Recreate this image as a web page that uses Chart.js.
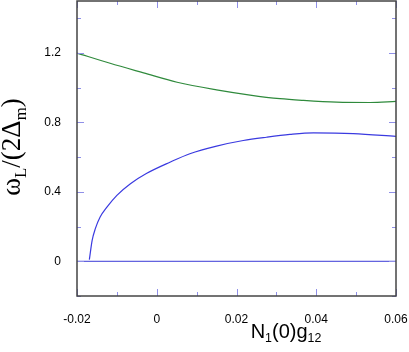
<!DOCTYPE html>
<html>
<head>
<meta charset="utf-8">
<script src="https://cdn.jsdelivr.net/npm/chart.js@4.4.0/dist/chart.umd.min.js"></script>
<style>
  html, body { margin: 0; padding: 0; background: #fff; }
  #wrap { width: 409px; height: 352px; }
</style>
</head>
<body>
<div id="wrap"><canvas id="myChart"></canvas></div>
<script>
// values
const blueX = [-0.0169, -0.0162, -0.0154, -0.0142, -0.0125, -0.01, -0.0066, -0.0025, 0.0033, 0.0083, 0.015, 0.0217, 0.0275, 0.0334, 0.0393, 0.0493, 0.06];
const blueY = [0.01, 0.121, 0.188, 0.255, 0.312, 0.38, 0.447, 0.507, 0.571, 0.62, 0.664, 0.696, 0.715, 0.731, 0.740, 0.736, 0.72];
const greenX = [-0.02, -0.0117, -0.0033, 0.0051, 0.015, 0.0234, 0.0309, 0.0368, 0.0451, 0.0535, 0.06];
const greenY = [1.2, 1.141, 1.086, 1.032, 0.988, 0.958, 0.937, 0.927, 0.917, 0.915, 0.921];
const zeroX = [-0.02, 0.06];
const zeroY = [0, 0];

const xTicks = [-0.02, -0.01, 0, 0.01, 0.02, 0.03, 0.04, 0.05, 0.06];
const xLabels = ['-0.02', '', '0', '', '0.02', '', '0.04', '', '0.06'];
const yTicks = [-0.2, 0, 0.2, 0.4, 0.6, 0.8, 1.0, 1.2, 1.4];
const yLabels = ['', '0', '', '0.4', '', '0.8', '', '1.2', ''];

function pts(xs, ys) {
    return xs.map((x, i) => ({ x: x, y: ys[i] }));
}

function drawRich(ctx, parts, size, family) {
    // text with subscripts, centred horizontally on 0, baseline at 0
    let w = 0;
    parts.forEach(p => {
        ctx.font = (p.sub ? size * 0.62 : size) + 'px ' + family;
        w += ctx.measureText(p.t).width;
    });
    let x = -w / 2;
    parts.forEach(p => {
        ctx.font = (p.sub ? size * 0.62 : size) + 'px ' + family;
        ctx.fillText(p.t, x, p.sub ? size * 0.22 : 0);
        x += ctx.measureText(p.t).width;
    });
}

const framePlugin = {
    id: 'frame',
    afterDraw(chart) {
        const ctx = chart.ctx;
        const a = chart.chartArea;
        const xs = chart.scales.x, ys = chart.scales.y;
        ctx.save();
        // inward tick marks on all four sides
        ctx.strokeStyle = '#8f8fe8';
        ctx.lineWidth = 1;
        xTicks.forEach((v, i) => {
            const px = Math.round(xs.getPixelForValue(v)) + 0.5;
            const len = xLabels[i] ? 7 : 4;
            ctx.beginPath();
            ctx.moveTo(px, a.bottom); ctx.lineTo(px, a.bottom - len);
            ctx.moveTo(px, a.top); ctx.lineTo(px, a.top + len);
            ctx.stroke();
        });
        yTicks.forEach((v, i) => {
            const py = Math.round(ys.getPixelForValue(v)) + 0.5;
            const len = yLabels[i] ? 7 : 4;
            ctx.beginPath();
            ctx.moveTo(a.left, py); ctx.lineTo(a.left + len, py);
            ctx.moveTo(a.right, py); ctx.lineTo(a.right - len, py);
            ctx.stroke();
        });
        // frame
        ctx.strokeStyle = '#444';
        ctx.lineWidth = 1.5;
        ctx.strokeRect(a.left, a.top, a.right - a.left, a.bottom - a.top);

        // axis titles
        ctx.fillStyle = '#000';
        ctx.textBaseline = 'alphabetic';
        ctx.textAlign = 'left';
        ctx.save();
        ctx.translate(20, 147);
        ctx.rotate(-Math.PI / 2);
        drawRich(ctx, [{ t: 'ω' }, { t: 'L', sub: true }, { t: '/(2Δ' }, { t: 'm', sub: true }, { t: ')' }], 27, "'Liberation Serif'");
        ctx.restore();
        ctx.save();
        ctx.translate(286, 338);
        drawRich(ctx, [{ t: 'N' }, { t: '1', sub: true }, { t: '(0)g' }, { t: '12', sub: true }], 20, "'Liberation Sans'");
        ctx.restore();
        ctx.restore();
    }
};

const ctx = document.getElementById('myChart').getContext('2d');
const myChart = new Chart(ctx, {
    type: 'scatter',
    data: {
        datasets: [
            {
                data: pts(zeroX, zeroY),
                showLine: true,
                borderColor: '#3a3ad6',
                borderWidth: 1,
                pointRadius: 0
            },
            {
                data: pts(blueX, blueY),
                showLine: true,
                borderColor: '#3a3ae0',
                borderWidth: 1.2,
                pointRadius: 0,
                cubicInterpolationMode: 'monotone'
            },
            {
                data: pts(greenX, greenY),
                showLine: true,
                borderColor: '#2f8a3c',
                borderWidth: 1.2,
                pointRadius: 0,
                cubicInterpolationMode: 'monotone'
            }
        ]
    },
    options: {
        responsive: true,
        maintainAspectRatio: false,
        animation: false,
        layout: { padding: { top: 1, right: 13, left: 0, bottom: 0 } },
        plugins: {
            legend: { display: false },
            tooltip: { enabled: false }
        },
        scales: {
            x: {
                type: 'linear',
                min: -0.02,
                max: 0.06,
                grid: { display: false },
                border: { display: false },
                afterBuildTicks: function(scale) {
                    scale.ticks = xTicks.map(v => ({ value: v }));
                },
                afterFit: function(scale) {
                    scale.height = 56;
                    scale.paddingLeft = 0;
                    scale.paddingRight = 0;
                },
                ticks: {
                    autoSkip: false,
                    maxRotation: 0,
                    padding: 8,
                    color: '#000',
                    font: { family: "'Liberation Sans'", size: 12 },
                    callback: function(value, index) { return xLabels[index]; }
                }
            },
            y: {
                type: 'linear',
                min: -0.2,
                max: 1.5,
                grid: { display: false },
                border: { display: false },
                afterBuildTicks: function(scale) {
                    scale.ticks = yTicks.map(v => ({ value: v }));
                },
                afterFit: function(scale) {
                    scale.width = 77;
                    scale.paddingTop = 0;
                    scale.paddingBottom = 0;
                },
                ticks: {
                    autoSkip: false,
                    padding: 8,
                    color: '#000',
                    font: { family: "'Liberation Sans'", size: 12 },
                    callback: function(value, index) { return yLabels[index]; }
                }
            }
        }
    },
    plugins: [framePlugin]
});
</script>
</body>
</html>
